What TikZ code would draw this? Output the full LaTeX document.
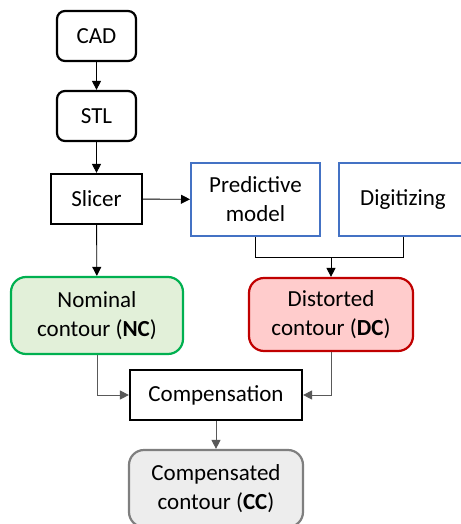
\documentclass[tikz,border=0pt]{standalone}
\usepackage{fontspec}
\setmainfont{Carlito}
\usetikzlibrary{arrows.meta}
\definecolor{bluebd}{HTML}{4472C4}
\definecolor{greenbd}{HTML}{00B050}
\definecolor{greenfill}{HTML}{E2F0D9}
\definecolor{redbd}{HTML}{C00000}
\definecolor{redfill}{HTML}{FFCCCC}
\definecolor{graybd}{HTML}{7F7F7F}
\definecolor{grayfill}{HTML}{EDEDED}
\definecolor{linegray}{HTML}{595959}
\tikzset{
  box/.style={draw=black, line width=2.2pt, fill=white, align=center, inner sep=0pt,
    font=\fontsize{23}{29}\selectfont},
  roundbox/.style={box, rounded corners=8pt},
  bluebox/.style={box, draw=bluebd, line width=2pt},
  contourbox/.style={box, rounded corners=15pt, minimum width=172pt, minimum height=77pt},
  conn/.style={line width=0.9pt, -{Triangle[length=9pt,width=9pt]}},
  link/.style={line width=0.9pt},
}
\begin{document}
\begin{tikzpicture}[x=1pt,y=-1pt]
\useasboundingbox (0,0) rectangle (460,524);
% process chain
\node[roundbox, minimum width=79pt, minimum height=50pt] (cad) at (96.5,36) {CAD};
\node[roundbox, minimum width=79pt, minimum height=50pt] (stl) at (96.5,116) {STL};
\node[box, minimum width=91pt, minimum height=50pt] (slicer) at (96.5,199) {Slicer};
\node[bluebox, minimum width=129pt, minimum height=73pt] (pred) at (255.5,199.5) {Predictive\\model};
\node[bluebox, minimum width=128pt, minimum height=73pt] (digi) at (403,199.5) {Digitizing};
\node[contourbox, draw=greenbd, fill=greenfill] (nc) at (97,315.5) {Nominal\\contour (\textbf{NC})};
\node[contourbox, draw=redbd, fill=redfill, minimum width=164pt, minimum height=73pt] (dc) at (331,314.5) {Distorted\\contour (\textbf{DC})};
\node[box, minimum width=172pt, minimum height=50pt] (comp) at (216,395) {Compensation};
\node[contourbox, draw=graybd, fill=grayfill, minimum width=174pt] (cc) at (216,488.5) {Compensated\\contour (\textbf{CC})};
% connectors
\draw[conn] (cad) -- (stl);
\draw[conn] (stl) -- (slicer);
\draw[conn] (slicer) -- (pred);
\draw[conn] (slicer) -- (nc);
\coordinate (join) at (331,257);
\draw[link] (pred.south) |- (join);
\draw[link] (digi.south) |- (join);
\draw[conn] (join) -- (dc.north);
\draw[conn, draw=linegray] (nc.south) |- (comp.west);
\draw[conn, draw=linegray] (dc.south) |- (comp.east);
\draw[conn, draw=linegray] (comp) -- (cc);
\end{tikzpicture}
\end{document}
